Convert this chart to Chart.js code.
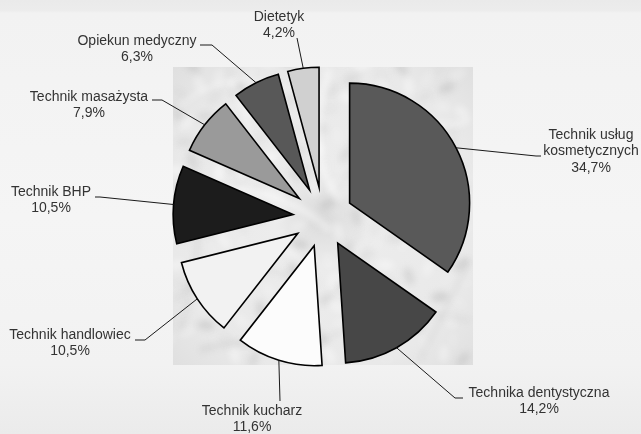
<!DOCTYPE html>
<html>
<head>
<meta charset="utf-8">
<script src="https://cdn.jsdelivr.net/npm/chart.js@4/dist/chart.umd.min.js"></script>
<style>
html, body { margin: 0; padding: 0; background: #f2f2f2; }
#wrap { width: 641px; height: 434px; }
</style>
</head>
<body>
<div id="wrap"><canvas id="myChart" width="641" height="434"></canvas></div>
<script>
// data
var categories = ['Technik usług\nkosmetycznych', 'Technika dentystyczna', 'Technik kucharz', 'Technik handlowiec',
                  'Technik BHP', 'Technik masażysta', 'Opiekun medyczny', 'Dietetyk'];
var shares = [34.7, 14.2, 11.6, 10.5, 10.5, 7.9, 6.3, 4.2];
var sliceColors = ['#595959', '#474747', '#fcfcfc', '#f2f2f2', '#1c1c1c', '#9a9a9a', '#585858', '#d0d0d0'];

// where each label sits (text centre, first line) and the bends of its leader line
var labelLayout = [
    {x: 591, y: 135, path: [[536, 156], [541, 156]]},
    {x: 539, y: 393, path: [[455, 398], [463, 398]]},
    {x: 252, y: 411, path: [[280, 401]]},
    {x: 70,  y: 335, path: [[145, 340], [135, 340]]},
    {x: 51,  y: 192, path: [[100, 197], [95, 197]]},
    {x: 89,  y: 97,  path: [[162, 100], [152, 100]]},
    {x: 137, y: 41,  path: [[212, 45], [200, 45]]},
    {x: 279, y: 17,  path: [[297, 38]]}
];

const EXPLODE = 30;

function fmt(v) {
    return v.toFixed(1).replace('.', ',') + '%';
}

// page background with soft bands + marble square
var backdrop = {
    id: 'backdrop',
    beforeDraw: function(chart) {
        var ctx = chart.ctx;
        var g = ctx.createLinearGradient(0, 0, 0, chart.height);
        g.addColorStop(0, '#eaeaea');
        g.addColorStop(0.024, '#ececec');
        g.addColorStop(0.03, '#f2f2f2');
        g.addColorStop(0.5, '#f5f5f5');
        g.addColorStop(0.84, '#f2f2f2');
        g.addColorStop(0.93, '#eeeeee');
        g.addColorStop(1, '#ebebeb');
        ctx.save();
        ctx.fillStyle = g;
        ctx.fillRect(0, 0, chart.width, chart.height);

        var x0 = 173, y0 = 67, w = 300, h = 298;
        ctx.beginPath();
        ctx.rect(x0, y0, w, h);
        ctx.clip();
        var rg = ctx.createRadialGradient(323, 217, 5, 323, 217, 220);
        rg.addColorStop(0, '#dcdcdc');
        rg.addColorStop(0.2, '#ececec');
        rg.addColorStop(0.7, '#e9e9e9');
        rg.addColorStop(1, '#dedede');
        ctx.fillStyle = rg;
        ctx.fillRect(x0, y0, w, h);

        // mottled grey patches
        ctx.filter = 'blur(3px)';
        for (var i = 0; i < 16; i++) {
            for (var j = 0; j < 16; j++) {
                var s = Math.sin(i * 1.73 + j * 2.31) * Math.cos(i * 0.57 - j * 1.19);
                var px = x0 + i * 19 + 8 * Math.sin(j * 1.3);
                var py = y0 + j * 19 + 8 * Math.cos(i * 1.7);
                ctx.beginPath();
                ctx.ellipse(px, py, 9, 5, (i + j) * 0.6, 0, Math.PI * 2);
                ctx.fillStyle = s > 0 ? 'rgba(170,170,170,' + (0.35 * s) + ')' : 'rgba(255,255,255,' + (-0.5 * s) + ')';
                ctx.fill();
            }
        }
        var veins = [
            [175, 110, 230, 60, 300, 95], [175, 300, 230, 250, 300, 280], [180, 200, 260, 170, 330, 230],
            [300, 360, 360, 300, 470, 320], [380, 80, 420, 140, 470, 120], [200, 350, 260, 330, 320, 365],
            [400, 250, 440, 200, 470, 230], [190, 150, 210, 240, 180, 330], [330, 70, 300, 150, 340, 200],
            [420, 360, 450, 300, 470, 260], [230, 80, 260, 130, 240, 180]
        ];
        veins.forEach(function(v, k) {
            ctx.beginPath();
            ctx.moveTo(v[0], v[1]);
            ctx.quadraticCurveTo(v[2], v[3], v[4], v[5]);
            ctx.strokeStyle = k % 2 ? 'rgba(160,160,160,0.18)' : 'rgba(255,255,255,0.45)';
            ctx.lineWidth = 3 + (k % 3) * 2;
            ctx.stroke();
        });
        ctx.filter = 'none';
        ctx.restore();
    }
};

// push every slice out from the centre along its middle angle
var explode = {
    id: 'explode',
    afterDatasetUpdate: function(chart, args) {
        var area = chart.chartArea;
        var cx = (area.left + area.right) / 2;
        var cy = (area.top + area.bottom) / 2;
        args.meta.data.forEach(function(arc) {
            var mid = (arc.startAngle + arc.endAngle) / 2;
            arc.x = cx + Math.cos(mid) * EXPLODE;
            arc.y = cy + Math.sin(mid) * EXPLODE;
        });
    }
};

// outside labels with leader lines
var leaders = {
    id: 'leaders',
    afterDatasetsDraw: function(chart) {
        var ctx = chart.ctx;
        var meta = chart.getDatasetMeta(0);
        ctx.save();
        ctx.font = '14px "Liberation Sans", Arial, sans-serif';
        ctx.textAlign = 'center';
        ctx.textBaseline = 'middle';
        meta.data.forEach(function(arc, i) {
            var lay = labelLayout[i];
            var mid = (arc.startAngle + arc.endAngle) / 2;
            var sx = arc.x + Math.cos(mid) * arc.outerRadius;
            var sy = arc.y + Math.sin(mid) * arc.outerRadius;
            ctx.beginPath();
            ctx.moveTo(sx, sy);
            lay.path.forEach(function(p) { ctx.lineTo(p[0], p[1]); });
            ctx.strokeStyle = '#1a1a1a';
            ctx.lineWidth = 1;
            ctx.stroke();
            var lines = chart.data.labels[i].split('\n');
            lines.push(fmt(chart.data.datasets[0].data[i]));
            ctx.fillStyle = '#333333';
            lines.forEach(function(t, k) {
                ctx.fillText(t, lay.x, lay.y + k * 16.5);
            });
        });
        ctx.restore();
    }
};

var ctx = document.getElementById('myChart').getContext('2d');
var chart = new Chart(ctx, {
    type: 'pie',
    data: {
        labels: categories,
        datasets: [{
            data: shares,
            backgroundColor: sliceColors,
            borderColor: '#000000',
            borderWidth: 1.6,
            borderJoinStyle: 'miter',
            radius: 120
        }]
    },
    options: {
        responsive: false,
        animation: false,
        layout: { padding: { left: 5, right: 0, top: 0, bottom: 0 } },
        plugins: {
            legend: { display: false },
            tooltip: { enabled: false }
        }
    },
    plugins: [backdrop, explode, leaders]
});
</script>
</body>
</html>
